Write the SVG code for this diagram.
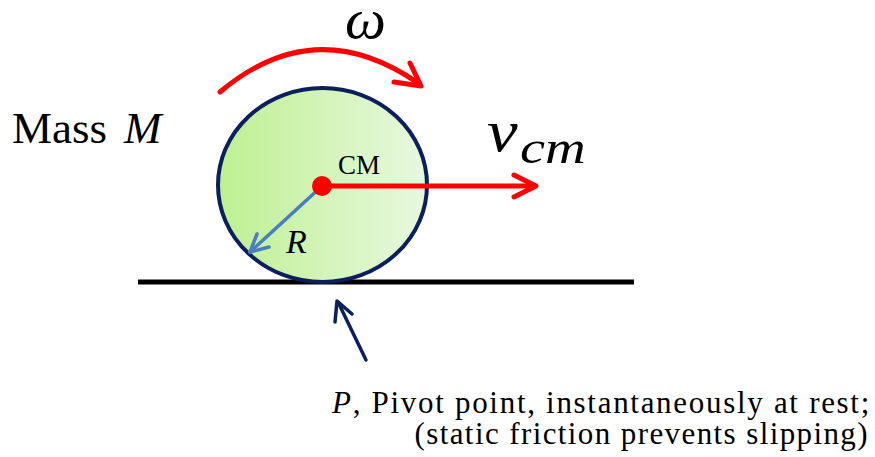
<svg xmlns="http://www.w3.org/2000/svg" width="875" height="457" viewBox="0 0 875 457">
<defs>
<linearGradient id="g" x1="0" y1="0" x2="1" y2="0">
<stop offset="0" stop-color="#bdf092"/>
<stop offset="1" stop-color="#e8f8e0"/>
</linearGradient>
<style>
.red{stroke:#ff0000;stroke-width:5;fill:none;stroke-linecap:round;stroke-linejoin:round}
.navy{stroke:#0a1f5c;stroke-width:3.5;fill:none;stroke-linecap:round;stroke-linejoin:round}
.blue{stroke:#4a7ebf;stroke-width:3.5;fill:none;stroke-linecap:round;stroke-linejoin:round}
text{font-family:"Liberation Serif",serif;fill:#000}
.it{font-style:italic}
</style>
</defs>
<rect width="875" height="457" fill="#fff"/>
<g id="ground"><line x1="138" y1="282" x2="634" y2="282" stroke="#000" stroke-width="5"/></g>
<g id="wheel">
<ellipse cx="322.5" cy="185" rx="104.5" ry="97" fill="url(#g)" stroke="#0a1f5c" stroke-width="4"/>
</g>
<g id="connectors">
<path class="red" d="M220 92 Q315 12 418 83"/>
<path class="red" d="M410 63 L421 86 L394 82"/>
<line class="red" x1="322" y1="186" x2="535" y2="186"/>
<path class="red" d="M514 175 L536 186 L514 197"/>
<line class="blue" x1="322" y1="186" x2="250" y2="252"/>
<path class="blue" d="M257 234 L250 252 L269 247"/>
<line class="navy" x1="366" y1="360" x2="338" y2="302"/>
<path class="navy" d="M335 322 L337 301 L352 314"/>
</g>
<g id="cm"><circle cx="322" cy="186" r="10" fill="#ff0000"/>
<text x="338" y="174" font-size="27">CM</text></g>
<g id="omega"><text class="it" x="345" y="38" font-size="58">ω</text></g>
<g id="mass"><text x="12" y="143" font-size="45">Mass <tspan class="it" x="124">M</tspan></text></g>
<g id="vcm">
<text class="it" transform="translate(487,151) scale(1.15,1)" font-size="60">v</text>
<text class="it" transform="translate(520,163) scale(1.2,1)" font-size="47">cm</text>
</g>
<g id="rlabel"><text class="it" x="286" y="253" font-size="34">R</text></g>
<g id="pivot-label">
<text x="871" y="413" font-size="31" text-anchor="end" letter-spacing="1.7"><tspan class="it">P</tspan>, Pivot point, instantaneously at rest;</text>
<text x="869" y="444" font-size="31" text-anchor="end" letter-spacing="1.4">(static friction prevents slipping)</text>
</g>
</svg>
